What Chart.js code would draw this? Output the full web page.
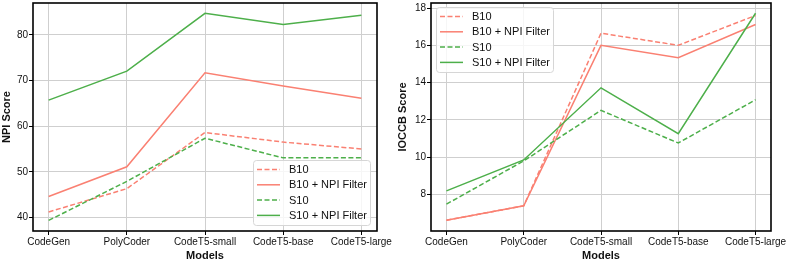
<!DOCTYPE html>
<html>
<head>
<meta charset="utf-8">
<script src="https://cdn.jsdelivr.net/npm/chart.js@4"></script>
<style>
  body { margin: 0; background: #fff; }
  #wrap { position: relative; width: 789px; height: 263px; }
  .box { position: absolute; top: 0; height: 263px; }
</style>
</head>
<body>
<div id="wrap">
  <div class="box" style="left:0;width:395px"><canvas id="npiChart"></canvas></div>
  <div class="box" style="left:396px;width:393px"><canvas id="ioccbChart"></canvas></div>
</div>
<script>
// models on the x axis
var models = ['CodeGen', 'PolyCoder', 'CodeT5-small', 'CodeT5-base', 'CodeT5-large'];
var seriesNames = ['B10', 'B10 + NPI Filter', 'S10', 'S10 + NPI Filter'];

// NPI score (left)
var npiB10 = [41.2, 46.3, 58.6, 56.5, 55.0];
var npiB10Filter = [44.6, 51.1, 71.7, 68.8, 66.1];
var npiS10 = [39.35, 47.9, 57.35, 53.05, 53.05];
var npiS10Filter = [65.7, 72.05, 84.7, 82.25, 84.3];
var npiTicks = [40, 50, 60, 70, 80];

// IOCCB score (right)
var ioccbB10 = [6.62, 7.39, 16.65, 16.0, 17.6];
var ioccbB10Filter = [6.62, 7.39, 16.0, 15.33, 17.12];
var ioccbS10 = [7.48, 9.8, 12.51, 10.76, 13.08];
var ioccbS10Filter = [8.19, 9.85, 13.72, 11.26, 17.72];
var ioccbTicks = [8, 10, 12, 14, 16, 18];

var salmon = '#fa8072';
var green = '#4daf4a';
var dash = [5, 2.5];
var styles = [
  { color: salmon, dash: dash },
  { color: salmon, dash: [] },
  { color: green, dash: dash },
  { color: green, dash: [] }
];

function toPoints(values) {
  return values.map(function (v, i) { return { x: i, y: v }; });
}

// black frame around the plot
var frame = {
  id: 'frame',
  afterDraw: function (chart) {
    var a = chart.chartArea, ctx = chart.ctx;
    ctx.save();
    ctx.strokeStyle = '#000';
    ctx.lineWidth = 1.6;
    ctx.strokeRect(a.left, a.top, a.right - a.left, a.bottom - a.top);
    ctx.restore();
  }
};

// matplotlib style legend inside the plot
var boxLegend = {
  id: 'boxLegend',
  afterDraw: function (chart, args, opts) {
    var a = chart.chartArea, ctx = chart.ctx;
    var w = 117, rowH = 15.3, h = 65;
    var x = opts.corner === 'br' ? a.right - 7 - w : a.left + 5;
    var y = opts.corner === 'br' ? a.bottom - 6 - h : a.top + 4;
    ctx.save();
    ctx.fillStyle = 'rgba(255,255,255,0.8)';
    ctx.strokeStyle = '#d6d6d6';
    ctx.lineWidth = 1;
    ctx.beginPath();
    ctx.roundRect(x + 0.5, y + 0.5, w, h, 3);
    ctx.fill();
    ctx.stroke();
    ctx.font = '11px "Liberation Sans", Arial, sans-serif';
    ctx.textBaseline = 'middle';
    chart.data.datasets.forEach(function (ds, i) {
      var cy = y + 9.5 + i * rowH;
      ctx.strokeStyle = ds.borderColor;
      ctx.lineWidth = 1.5;
      ctx.setLineDash(ds.borderDash);
      ctx.beginPath();
      ctx.moveTo(x + 4, cy);
      ctx.lineTo(x + 27, cy);
      ctx.stroke();
      ctx.setLineDash([]);
      ctx.fillStyle = '#111';
      ctx.fillText(ds.label, x + 36, cy + 0.5);
    });
    ctx.restore();
  }
};

function makeChart(id, series, yTicks, yMin, yMax, yTitle, yWidth, corner) {
  var datasets = series.map(function (vals, i) {
    return {
      label: seriesNames[i],
      data: toPoints(vals),
      borderColor: styles[i].color,
      borderDash: styles[i].dash,
      borderWidth: 1.5,
      pointRadius: 0,
      tension: 0,
      order: 4 - i
    };
  });
  return new Chart(document.getElementById(id), {
    type: 'line',
    data: { datasets: datasets },
    plugins: [frame, boxLegend],
    options: {
      responsive: true,
      maintainAspectRatio: false,
      animation: false,
      layout: { padding: { top: 3, right: 18, bottom: 0, left: 0 } },
      plugins: {
        legend: { display: false },
        tooltip: { enabled: false },
        boxLegend: { corner: corner }
      },
      scales: {
        x: {
          type: 'linear',
          min: -0.2,
          max: 4.2,
          afterBuildTicks: function (s) { s.ticks = models.map(function (m, i) { return { value: i }; }); },
          afterFit: function (s) { s.height = 32; s.paddingLeft = 0; s.paddingRight = 0; },
          border: { display: false },
          grid: { color: '#cfcfcf', lineWidth: 1, tickLength: 4, tickColor: '#000', tickWidth: 1 },
          ticks: {
            padding: 1,
            color: '#111',
            font: { family: '"Liberation Sans", Arial, sans-serif', size: 10 },
            callback: function (v) { return models[v]; }
          },
          title: {
            display: true,
            text: 'Models',
            color: '#111',
            padding: { top: 0, bottom: 0 },
            font: { family: '"Liberation Sans", Arial, sans-serif', size: 11, weight: 'bold' }
          }
        },
        y: {
          min: yMin,
          max: yMax,
          afterBuildTicks: function (s) { s.ticks = yTicks.map(function (t) { return { value: t }; }); },
          afterFit: function (s) { s.width = yWidth; s.paddingTop = 0; s.paddingBottom = 0; },
          border: { display: false },
          grid: { color: '#cfcfcf', lineWidth: 1, tickLength: 4, tickColor: '#000', tickWidth: 1 },
          ticks: {
            padding: 1,
            color: '#111',
            font: { family: '"Liberation Sans", Arial, sans-serif', size: 10 }
          },
          title: {
            display: true,
            text: yTitle,
            color: '#111',
            padding: { top: 0, bottom: 0 },
            font: { family: '"Liberation Sans", Arial, sans-serif', size: 11, weight: 'bold' }
          }
        }
      }
    }
  });
}

makeChart('npiChart', [npiB10, npiB10Filter, npiS10, npiS10Filter], npiTicks, 37.03, 86.97, 'NPI Score', 33, 'br');
makeChart('ioccbChart', [ioccbB10, ioccbB10Filter, ioccbS10, ioccbS10Filter], ioccbTicks, 6.04, 18.27, 'IOCCB Score', 35, 'tl');
</script>
</body>
</html>
